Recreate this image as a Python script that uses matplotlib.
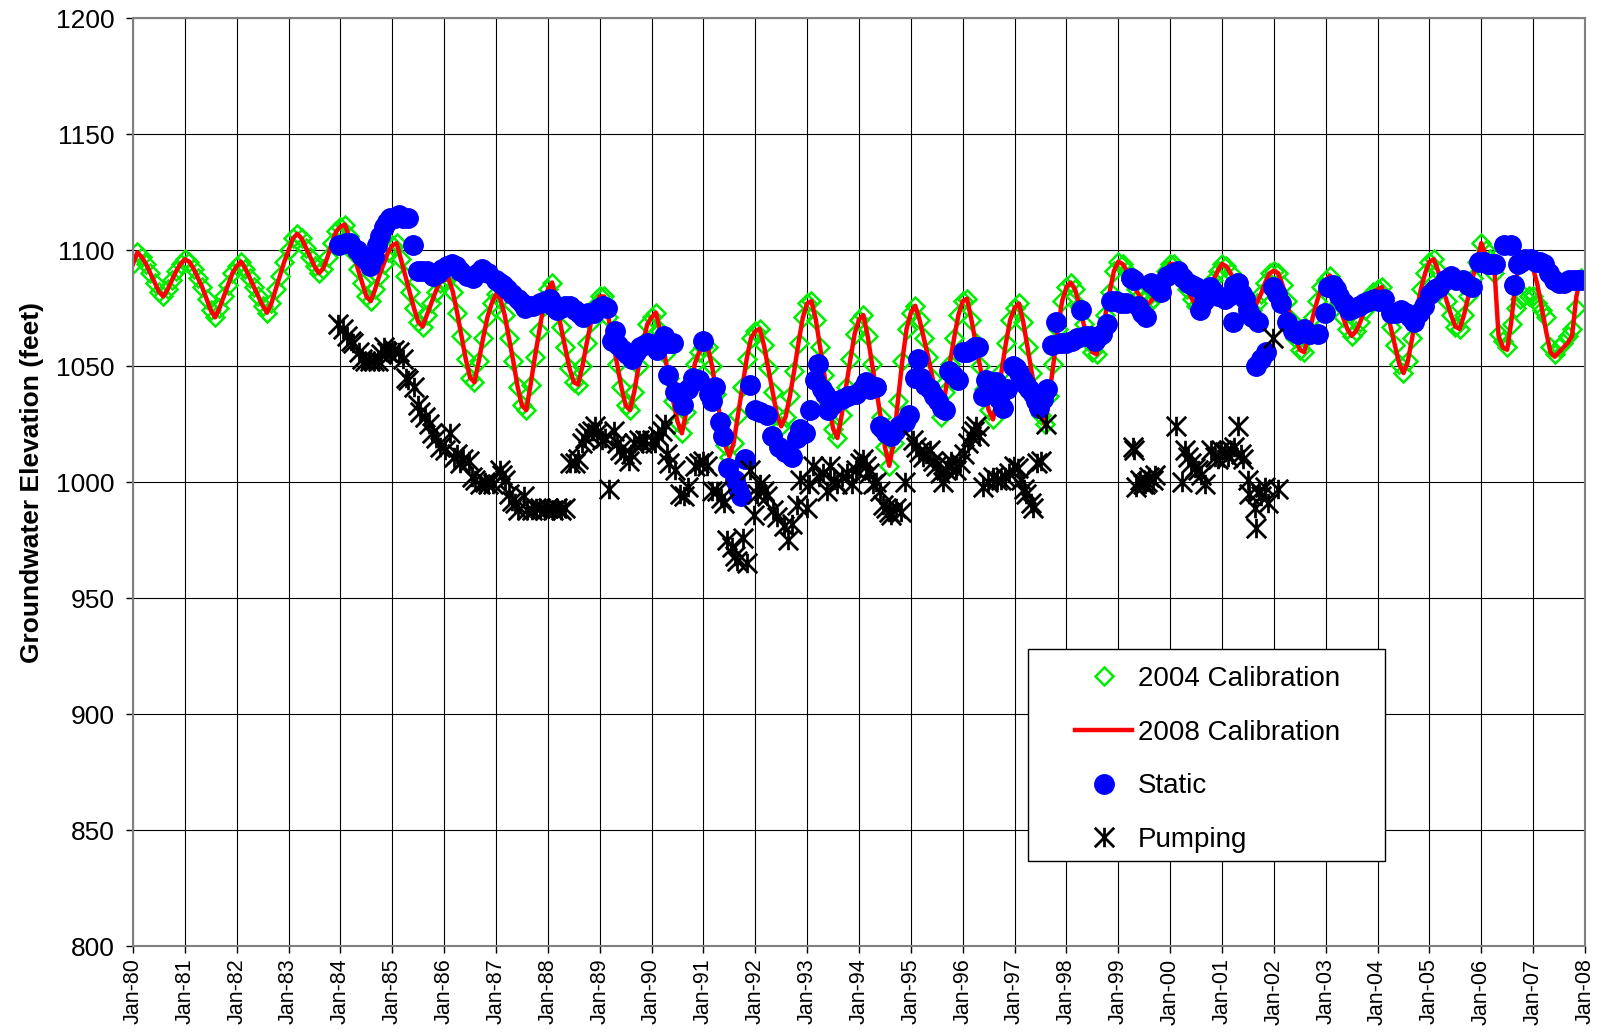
import matplotlib
matplotlib.use('Agg')
import matplotlib.pyplot as plt
import numpy as np
from matplotlib.path import Path
from matplotlib.patches import Rectangle

plt.rcParams['font.family'] = ['Liberation Sans', 'DejaVu Sans']

# 2004 calibration, monthly values (Jan..Dec), 1980 - 2007
cal2004 = [
    1094, 1099, 1097, 1094, 1090, 1086, 1082, 1080, 1083, 1087, 1091, 1094,  # 1980
    1096, 1095, 1092, 1088, 1084, 1079, 1074, 1071, 1075, 1080, 1085, 1090,  # 1981
    1093, 1095, 1092, 1088, 1084, 1080, 1076, 1073, 1077, 1083, 1089, 1095,  # 1982
    1100, 1105, 1107, 1105, 1101, 1097, 1093, 1090, 1092, 1097, 1103, 1108,  # 1983
    1110, 1111, 1106, 1099, 1092, 1086, 1080, 1078, 1083, 1089, 1094, 1099,  # 1984
    1102, 1103, 1096, 1089, 1082, 1075, 1069, 1067, 1072, 1077, 1082, 1086,  # 1985
    1087, 1088, 1082, 1073, 1063, 1053, 1045, 1043, 1052, 1062, 1071, 1077,  # 1986
    1081, 1079, 1072, 1062, 1052, 1041, 1033, 1031, 1042, 1054, 1065, 1076,  # 1987
    1083, 1086, 1077, 1067, 1058, 1049, 1043, 1042, 1050, 1060, 1069, 1076,  # 1988
    1080, 1080, 1071, 1061, 1051, 1041, 1033, 1031, 1039, 1050, 1060, 1068,  # 1989
    1071, 1073, 1065, 1055, 1045, 1035, 1026, 1021, 1030, 1041, 1051, 1056,  # 1990
    1058, 1058, 1050, 1038, 1026, 1016, 1011, 1017, 1029, 1041, 1053, 1062,  # 1991
    1065, 1066, 1059, 1049, 1039, 1029, 1024, 1028, 1037, 1048, 1060, 1071,  # 1992
    1077, 1078, 1070, 1058, 1046, 1034, 1023, 1019, 1029, 1041, 1053, 1064,  # 1993
    1070, 1072, 1063, 1051, 1040, 1028, 1015, 1007, 1017, 1035, 1052, 1066,  # 1994
    1073, 1076, 1070, 1062, 1054, 1045, 1035, 1028, 1039, 1051, 1062, 1072,  # 1995
    1078, 1079, 1070, 1060, 1050, 1040, 1031, 1027, 1036, 1048, 1060, 1070,  # 1996
    1075, 1077, 1069, 1058, 1047, 1037, 1029, 1025, 1037, 1051, 1066, 1078,  # 1997
    1084, 1086, 1083, 1076, 1068, 1061, 1056, 1055, 1063, 1072, 1082, 1091,  # 1998
    1095, 1094, 1091, 1087, 1083, 1080, 1078, 1077, 1079, 1083, 1087, 1091,  # 1999
    1094, 1094, 1091, 1087, 1083, 1079, 1076, 1075, 1078, 1083, 1087, 1091,  # 2000
    1094, 1093, 1090, 1086, 1082, 1078, 1075, 1074, 1077, 1081, 1086, 1090,  # 2001
    1091, 1090, 1085, 1078, 1070, 1062, 1057, 1056, 1063, 1071, 1078, 1084,  # 2002
    1087, 1089, 1084, 1077, 1071, 1066, 1063, 1065, 1069, 1074, 1078, 1082,  # 2003
    1083, 1084, 1076, 1067, 1059, 1051, 1047, 1052, 1062, 1073, 1083, 1090,  # 2004
    1095, 1096, 1091, 1084, 1078, 1072, 1067, 1066, 1072, 1080, 1088, 1095,  # 2005
    1103, 1100, 1096, 1090, 1064, 1061, 1058, 1068, 1075, 1079, 1080, 1080,  # 2006
    1080, 1077, 1074, 1071, 1058, 1055, 1058, 1060, 1063, 1066, 1075, 1088,  # 2007
]

# 2008 calibration: same as 2004 run up to 2005, then differs (Jan-06 .. Jan-08)
cal2008_late = [
    1103, 1098, 1095, 1093, 1063, 1058, 1057, 1070, 1088, 1093, 1094, 1093,
    1092, 1085, 1075, 1065, 1056, 1054, 1056, 1058, 1060, 1063, 1080, 1088,
    1088,
]
cal2008 = cal2004[:312] + cal2008_late

# static water levels (decimal year, feet)
static_t = [
    1983.98, 1984.10, 1984.19, 1984.31, 1984.40, 1984.48, 1984.57, 1984.64, 1984.70, 1984.77,
    1984.83, 1984.90, 1984.96, 1985.05, 1985.12, 1985.20, 1985.30, 1985.40, 1985.50, 1985.58,
    1985.66, 1985.79, 1985.88, 1985.95, 1986.05, 1986.15, 1986.22, 1986.30, 1986.44, 1986.56,
    1986.65, 1986.72, 1986.85, 1987.00, 1987.08, 1987.14, 1987.22, 1987.30, 1987.43, 1987.50,
    1987.56, 1987.64, 1987.72, 1987.85, 1987.95, 1988.04, 1988.10, 1988.17, 1988.25, 1988.33,
    1988.42, 1988.52, 1988.60, 1988.68, 1988.78, 1988.88, 1988.98, 1989.07, 1989.14, 1989.23,
    1989.30, 1989.36, 1989.45, 1989.53, 1989.62, 1989.70, 1989.78, 1989.86, 1989.94, 1990.02,
    1990.10, 1990.17, 1990.23, 1990.33, 1990.42, 1990.32, 1990.45, 1990.61, 1990.70, 1990.80,
    1990.92, 1991.00, 1991.10, 1991.16, 1991.22, 1991.32, 1991.38, 1991.48, 1991.60, 1991.66,
    1991.73, 1991.80, 1991.90, 1991.99, 1992.10, 1992.22, 1992.32, 1992.45, 1992.58, 1992.70,
    1992.80, 1992.86, 1992.96, 1993.05, 1993.15, 1993.21, 1993.28, 1993.34, 1993.40, 1993.47,
    1993.56, 1993.68, 1993.79, 1993.95, 1994.05, 1994.14, 1994.22, 1994.33, 1994.40, 1994.47,
    1994.53, 1994.62, 1994.70, 1994.78, 1994.88, 1994.97, 1995.08, 1995.13, 1995.20, 1995.28,
    1995.36, 1995.44, 1995.52, 1995.60, 1995.65, 1995.74, 1995.82, 1995.90, 1996.00, 1996.08,
    1996.16, 1996.24, 1996.29, 1996.39, 1996.45, 1996.55, 1996.64, 1996.70, 1996.77, 1996.85,
    1996.96, 1997.03, 1997.09, 1997.16, 1997.22, 1997.28, 1997.35, 1997.42, 1997.48, 1997.55,
    1997.62, 1997.72, 1997.79, 1997.90, 1998.00, 1998.10, 1998.20, 1998.28, 1998.35, 1998.45,
    1998.55, 1998.62, 1998.69, 1998.78, 1998.86, 1998.95, 1999.06, 1999.15, 1999.25, 1999.31,
    1999.38, 1999.46, 1999.54, 1999.64, 1999.72, 1999.83, 1999.93, 2000.05, 2000.15, 2000.25,
    2000.34, 2000.42, 2000.50, 2000.57, 2000.66, 2000.76, 2000.84, 2000.92, 2001.05, 2001.14,
    2001.21, 2001.24, 2001.31, 2001.38, 2001.44, 2001.50, 2001.58, 2001.66, 2001.69, 2001.76,
    2001.85, 2001.98, 2002.06, 2002.14, 2002.25, 2002.36, 2002.46, 2002.59, 2002.70, 2002.85,
    2002.98, 2003.05, 2003.14, 2003.20, 2003.26, 2003.36, 2003.45, 2003.55, 2003.64, 2003.74,
    2003.84, 2003.93, 2004.03, 2004.12, 2004.25, 2004.35, 2004.45, 2004.55, 2004.62, 2004.70,
    2004.80, 2004.90, 2005.02, 2005.10, 2005.19, 2005.30, 2005.41, 2005.52, 2005.64, 2005.74,
    2005.83, 2005.96, 2006.05, 2006.13, 2006.19, 2006.27, 2006.44, 2006.58, 2006.63, 2006.70,
    2006.76, 2006.85, 2006.95, 2007.05, 2007.13, 2007.21, 2007.30, 2007.40, 2007.50, 2007.60,
    2007.70, 2007.78, 2007.85, 2007.92,
]
static_v = [
    1102, 1103, 1103, 1100, 1098, 1096, 1093, 1097, 1102, 1106,
    1110, 1112, 1114, 1114, 1115, 1114, 1114, 1102, 1091, 1091,
    1091, 1089, 1090, 1092, 1093, 1094, 1093, 1091, 1089, 1088,
    1090, 1092, 1090, 1087, 1086, 1085, 1083, 1081, 1079, 1077,
    1075, 1076, 1076, 1077, 1078, 1079, 1076, 1074, 1075, 1076,
    1076, 1074, 1073, 1071, 1073, 1073, 1075, 1076, 1075, 1061,
    1065, 1059, 1057, 1055, 1053, 1056, 1058, 1059, 1060, 1059,
    1057, 1060, 1063, 1060, 1060, 1046, 1039, 1033, 1040, 1045,
    1044, 1061, 1038, 1035, 1041, 1026, 1020, 1006, 1001, 997,
    994, 1010, 1042, 1031, 1030, 1029, 1020, 1015, 1013, 1011,
    1019, 1023, 1021, 1031, 1044, 1051, 1040, 1038, 1031, 1033,
    1035, 1036, 1037, 1038, 1040, 1043, 1040, 1041, 1024, 1023,
    1021, 1020, 1022, 1024, 1026, 1029, 1045, 1053, 1045, 1042,
    1040, 1037, 1035, 1032, 1031, 1048, 1046, 1044, 1056, 1056,
    1057, 1058, 1058, 1037, 1044, 1043, 1043, 1036, 1032, 1040,
    1050, 1049, 1047, 1044, 1042, 1040, 1038, 1035, 1032, 1036,
    1040, 1059, 1069, 1060, 1060, 1061, 1062, 1074, 1063, 1063,
    1061, 1063, 1064, 1068, 1078, 1078, 1077, 1077, 1088, 1087,
    1076, 1073, 1071, 1086, 1084, 1082, 1089, 1090, 1091, 1088,
    1086, 1085, 1084, 1074, 1078, 1084, 1082, 1080, 1079, 1080,
    1069, 1085, 1086, 1081, 1079, 1074, 1071, 1050, 1069, 1053,
    1056, 1084, 1081, 1077, 1069, 1065, 1064, 1066, 1064, 1064,
    1073, 1084, 1085, 1083, 1080, 1077, 1074, 1075, 1076, 1077,
    1078, 1079, 1078, 1079, 1073, 1073, 1074, 1073, 1071, 1069,
    1073, 1076, 1081, 1083, 1084, 1087, 1089, 1087, 1087, 1085,
    1084, 1095, 1095, 1094, 1094, 1094, 1102, 1102, 1085, 1094,
    1095, 1096, 1096, 1095, 1095, 1094, 1090, 1087, 1086, 1086,
    1087, 1087, 1087, 1087,
]

# pumping water levels (decimal year, feet)
pump_t = [
    1983.96, 1984.04, 1984.12, 1984.20, 1984.25, 1984.35, 1984.42, 1984.48, 1984.56, 1984.64,
    1984.72, 1984.78, 1984.83, 1984.90, 1984.96, 1985.04, 1985.12, 1985.21, 1985.26, 1985.31,
    1985.41, 1985.50, 1985.54, 1985.63, 1985.70, 1985.76, 1985.84, 1985.92, 1986.01, 1986.11,
    1986.18, 1986.24, 1986.31, 1986.37, 1986.47, 1986.53, 1986.60, 1986.69, 1986.78, 1986.85,
    1986.95, 1987.08, 1987.12, 1987.17, 1987.25, 1987.30, 1987.37, 1987.43, 1987.53, 1987.60,
    1987.69, 1987.78, 1987.85, 1987.95, 1988.01, 1988.10, 1988.17, 1988.25, 1988.33, 1988.43,
    1988.52, 1988.59, 1988.65, 1988.72, 1988.78, 1988.85, 1988.91, 1988.95, 1989.05, 1989.10,
    1989.17, 1989.27, 1989.33, 1989.40, 1989.46, 1989.56, 1989.61, 1989.66, 1989.75, 1989.82,
    1989.88, 1990.00, 1990.06, 1990.13, 1990.20, 1990.26, 1990.30, 1990.33, 1990.45, 1990.55,
    1990.62, 1990.70, 1990.84, 1990.92, 1991.00, 1991.06, 1991.16, 1991.26, 1991.33, 1991.39,
    1991.45, 1991.55, 1991.60, 1991.64, 1991.77, 1991.84, 1991.90, 1991.97, 1992.04, 1992.10,
    1992.16, 1992.22, 1992.35, 1992.42, 1992.55, 1992.64, 1992.71, 1992.80, 1992.87, 1993.00,
    1993.03, 1993.12, 1993.22, 1993.30, 1993.38, 1993.45, 1993.52, 1993.57, 1993.68, 1993.77,
    1993.86, 1993.95, 1994.01, 1994.08, 1994.14, 1994.20, 1994.27, 1994.33, 1994.40, 1994.47,
    1994.53, 1994.58, 1994.62, 1994.72, 1994.80, 1994.88, 1995.04, 1995.10, 1995.16, 1995.23,
    1995.30, 1995.36, 1995.43, 1995.49, 1995.56, 1995.62, 1995.68, 1995.72, 1995.78, 1995.87,
    1995.95, 1996.03, 1996.10, 1996.16, 1996.22, 1996.26, 1996.32, 1996.39, 1996.48, 1996.58,
    1996.66, 1996.74, 1996.82, 1996.90, 1996.99, 1997.06, 1997.12, 1997.19, 1997.22, 1997.32,
    1997.35, 1997.44, 1997.50, 1997.60,
    1999.28, 1999.31, 1999.34, 1999.41, 1999.47, 1999.51, 1999.56, 1999.60, 1999.66, 1999.70,
    2000.12, 2000.22, 2000.28, 2000.35, 2000.41, 2000.48, 2000.54, 2000.60, 2000.67, 2000.79,
    2000.86, 2000.92, 2000.99, 2001.05, 2001.11, 2001.18, 2001.24, 2001.31, 2001.36, 2001.40,
    2001.50, 2001.53, 2001.63, 2001.66, 2001.72, 2001.76, 2001.82, 2001.89, 2001.98, 2002.08,
]
pump_v = [
    1068, 1066, 1063, 1061, 1060, 1056, 1053, 1052, 1052, 1052,
    1052, 1055, 1058, 1056, 1055, 1057, 1056, 1053, 1045, 1044,
    1041, 1033, 1030, 1028, 1025, 1021, 1019, 1015, 1014, 1021,
    1011, 1012, 1008, 1010, 1009, 1002, 1001, 999, 1000, 999,
    999, 1005, 1003, 1001, 995, 992, 991, 988, 994, 988,
    988, 989, 989, 988, 989, 988, 989, 988, 989, 1008,
    1008, 1010, 1017, 1019, 1021, 1022, 1024, 1021, 1018, 1019,
    997, 1022, 1017, 1014, 1012, 1009, 1012, 1017, 1018, 1017,
    1018, 1018, 1017, 1020, 1022, 1025, 1012, 1008, 1005, 995,
    994, 998, 1007, 1008, 1009, 1007, 996, 996, 993, 991,
    975, 972, 968, 966, 976, 965, 1005, 986, 995, 999,
    996, 994, 988, 985, 981, 975, 982, 990, 1001, 989,
    999, 1007, 1002, 1004, 996, 1007, 1001, 999, 1002, 1004,
    999, 1005, 1008, 1010, 1007, 1004, 999, 1000, 996, 990,
    989, 987, 986, 989, 987, 1000, 1018, 1015, 1013, 1011,
    1012, 1014, 1009, 1007, 1004, 1000, 1005, 1007, 1009, 1005,
    1008, 1012, 1017, 1020, 1022, 1024, 1020, 998, 1000, 1002,
    1001, 1001, 1002, 1004, 1007, 1006, 1001, 997, 995, 991,
    989, 1008, 1009, 1025,
    1015, 1014, 998, 1001, 999, 999, 1000, 1002, 1001, 1003,
    1024, 1000, 1014, 1011, 1008, 1006, 1005, 1003, 999, 1014,
    1011, 1010, 1014, 1013, 1011, 1014, 1015, 1024, 1012, 1010,
    1001, 995, 989, 980, 996, 994, 998, 991, 1062, 997,
]

years = list(range(1980, 2009))
year_labels = ['Jan-%02d' % (y % 100) for y in years]
y_ticks = list(range(800, 1201, 50))

t2004 = 1980 + np.arange(len(cal2004)) / 12.0
t2008 = 1980 + np.arange(len(cal2008)) / 12.0

# excel style asterisk: X plus a vertical bar
star = Path([(0, -1), (0, 1), (-1, -1), (1, 1), (-1, 1), (1, -1)],
            [Path.MOVETO, Path.LINETO] * 3)

fig = plt.figure(figsize=(16.01, 10.32), dpi=100)
ax = fig.add_axes([0.0831, 0.0833, 0.9069, 0.8992])

ax.plot(t2004, cal2004, ls='none', marker='D', ms=9.5, mfc='none',
        mec='#00ee00', mew=1.8, label='2004 Calibration')
ax.plot(t2008, cal2008, color='#ff0000', lw=3.2, label='2008 Calibration')
ax.plot(static_t, static_v, ls='none', marker='o', ms=14, color='#0000ff',
        mec='#0000ff', label='Static')
ax.plot(pump_t, pump_v, ls='none', marker=star, ms=14, mfc='none',
        mec='black', mew=2.0, label='Pumping')

ax.set_xlim(1980, 2008)
ax.set_ylim(800, 1200)
ax.set_xticks(years)
ax.set_xticklabels(year_labels, rotation=90, fontsize=15.5)
ax.set_yticks(y_ticks)
ax.set_yticklabels([str(v) for v in y_ticks], fontsize=19)
ax.tick_params(axis='y', direction='out', length=5, width=1, pad=8)
ax.tick_params(axis='x', direction='out', length=5, width=1, pad=4)
ax.grid(True, color='black', lw=0.8)
ax.set_axisbelow(True)
for s in ax.spines.values():
    s.set_color('#808080')
    s.set_linewidth(1.5)

ax.set_ylabel('Groundwater Elevation (feet)', fontsize=19, fontweight='bold', labelpad=9)

# legend box drawn separately so padding matches the original
ax.add_patch(Rectangle((0.6164, 0.0916), 0.2459, 0.2284, transform=ax.transAxes,
                       facecolor='white', edgecolor='black', lw=1, zorder=4))
ax.legend(loc='center left', bbox_to_anchor=(0.6488, 0.2011), frameon=False,
          fontsize=20, borderpad=0, borderaxespad=0, handlelength=2.05,
          handletextpad=0.2, labelspacing=1.0)

fig.savefig('out.png', dpi=100)
